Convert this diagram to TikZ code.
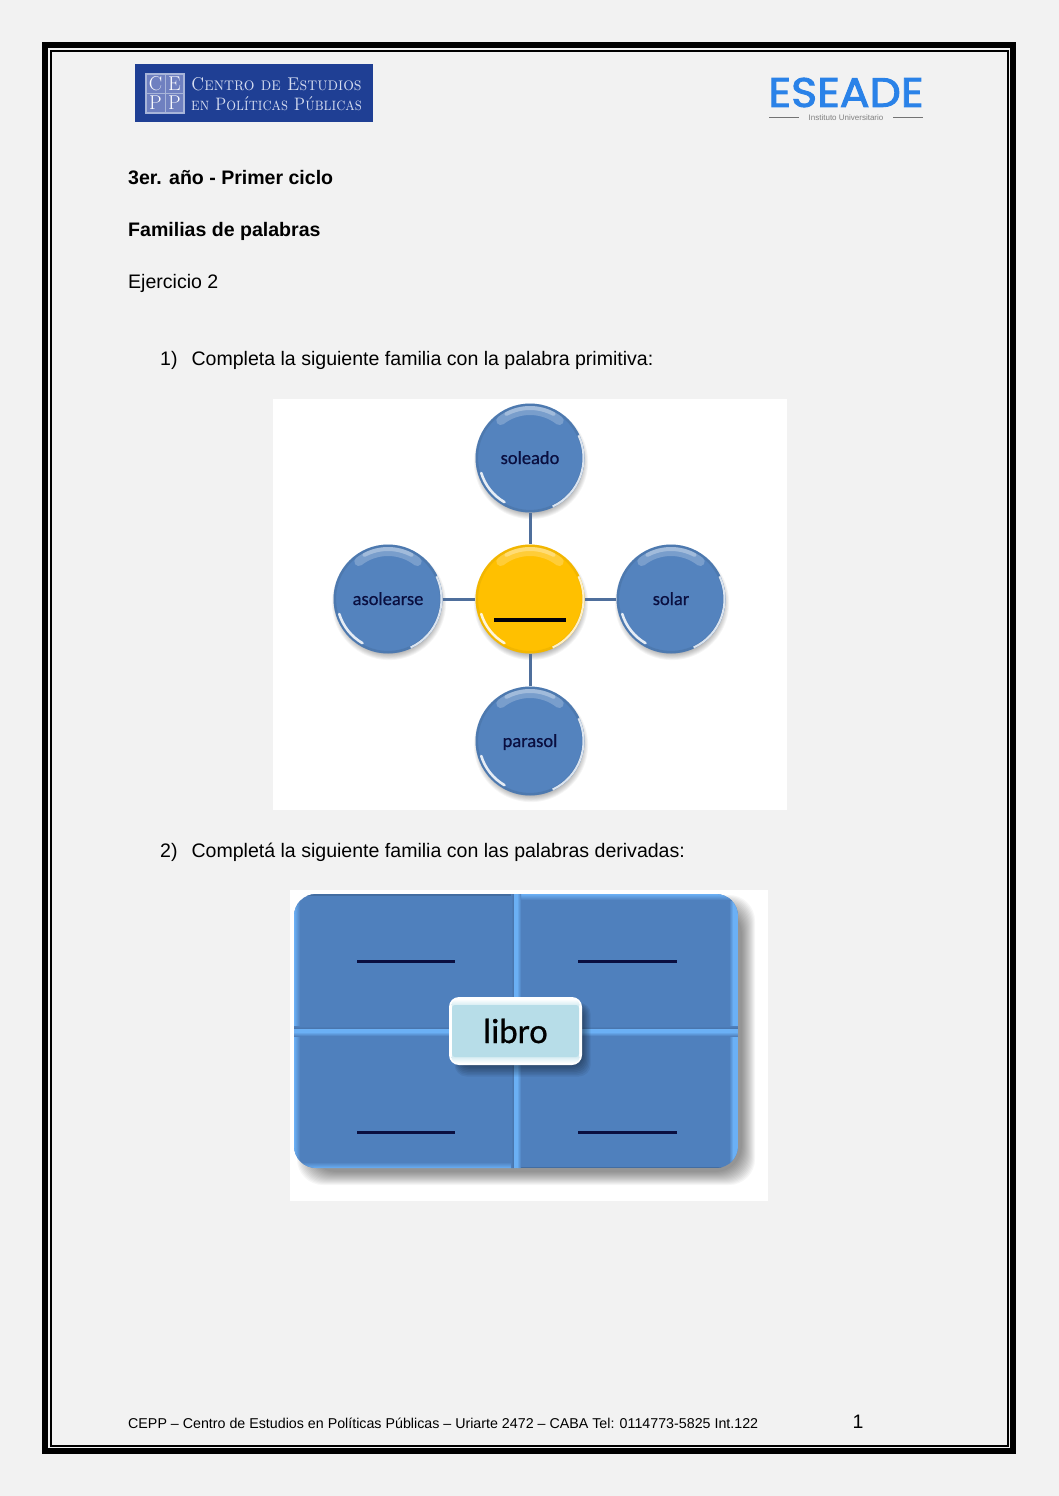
\documentclass[tikz,border=0pt]{standalone}
\usepackage{fontspec}
\newfontfamily\arial{Liberation Sans}
\newfontfamily\calib{Carlito}
\newfontfamily\calibfat[FakeBold=0.6]{Carlito}
\newfontfamily\logofont[FakeBold=2.2]{Poppins}
\usetikzlibrary{calc}
\definecolor{pagebg}{HTML}{F2F2F2}
\definecolor{ballblue}{HTML}{5483BE}
\definecolor{linkblue}{HTML}{4F6F9C}
\definecolor{gold}{HTML}{FFC000}
\definecolor{panelblue}{HTML}{4F80BD}
\definecolor{bevel}{HTML}{6BB0F5}
\definecolor{navy}{HTML}{0A0F40}
\definecolor{logoblue}{HTML}{1F3F94}
\definecolor{logotext}{HTML}{D5DCF0}
\definecolor{logocellc}{HTML}{6F80C0}
\definecolor{esblue}{HTML}{2A82E8}
\definecolor{keycap}{HTML}{B7DDE8}
\tikzset{
  bodytext/.style={anchor=west,inner sep=0pt,font=\arial\fontsize{19.55}{22}\selectfont,text=black},
  boldtext/.style={bodytext,font=\arial\bfseries\fontsize{19.55}{22}\selectfont},
  ball/.style={circle,minimum size=109pt,inner sep=0pt,text=navy,text height=12pt,text depth=0pt,font=\calibfat\fontsize{18.5}{20}\selectfont},
  link/.style={draw=linkblue,line width=3pt},
  blank/.style={draw=navy,line width=3pt},
  logocell/.style={inner sep=0pt,text=white,font=\fontsize{20}{22}\selectfont},
  logoline/.style={anchor=west,inner sep=0pt,text=logotext},
}
\newcommand{\ballart}[5]{% x y base highlight rim
  \foreach \i in {0,...,9}{\fill[black,opacity=0.04] (#1+1,#2+4) circle ({49+\i*.9});}
  \fill[#3] (#1,#2) circle (54.5);
  \draw[#5,opacity=.25,line width=2.5pt] (#1,#2) circle (53.2);
  \draw[white,opacity=.8,line width=2pt] (#1,#2) ++(65:53.5) arc (65:-25:53.5);
  \draw[#4,opacity=.22,line width=9pt,line cap=round] (#1,#2) ++(-128:47.5) arc (-128:-52:47.5);
  \draw[#4,opacity=.3,line width=4pt,line cap=round] (#1,#2) ++(-118:50) arc (-118:-62:50);
  \draw[white,opacity=.85,line width=2.6pt,line cap=round] (#1,#2) ++(-240:51) arc (-240:-197:51);
}
\begin{document}
\begin{tikzpicture}[x=1pt,y=-1pt]
\useasboundingbox (0,0) rectangle (1059,1496);
\fill[pagebg] (0,0) rectangle (1059,1496);
% page frame
\draw[black,line width=6pt] (45,45) rectangle (1013,1450.5);
\draw[black,line width=2pt] (51,51) rectangle (1007.5,1446);
% CEPP logo
\fill[logoblue] (135,64) rectangle (373,122);
\fill[logotext!75!logoblue] (145,73) rectangle (185,113.5);
\fill[logocellc] (147,75) rectangle (164.5,92.5);
\fill[logocellc] (166,75) rectangle (183,92.5);
\fill[logocellc] (147,94) rectangle (164.5,111.5);
\fill[logocellc] (166,94) rectangle (183,111.5);
\node[logocell] (lc) at (155.5,84) {C};
\node[logocell] (le) at (174.5,84) {E};
\node[logocell] (lp) at (155.5,103) {P};
\node[logocell] (lq) at (174.5,103) {P};
\node[logoline] (l1) at (191,84) {\scalebox{.91}[1]{\scshape\fontsize{18.5}{22}\selectfont Centro de Estudios}};
\node[logoline] (l2) at (191,104) {\scalebox{.855}[1]{\scshape\fontsize{18}{22}\selectfont en Políticas Públicas}};
% ESEADE logo
\node[inner sep=0pt,text=esblue] (es) at (846,92.5) {\resizebox{155pt}{29pt}{\logofont ESEADE}};
\node[inner sep=0pt,text=black!50,font=\arial\fontsize{8}{9}\selectfont] (ins) at (846,117.5) {Instituto Universitario};
\draw[black!55,line width=.7pt] (769,117) -- (799,117) (893,117) -- (923,117);
% headings
\node[boldtext] (h1) at (128,178) {3er. año - Primer ciclo};
\node[boldtext] (h2) at (128,231) {Familias de palabras};
\node[bodytext] (h3) at (128,283.5) {Ejercicio 2};
\node[bodytext] (q1) at (160,360.5) {1)\hspace{14pt}Completa la siguiente familia con la palabra primitiva:};
\node[bodytext] (q2) at (160,852.5) {2)\hspace{14pt}Completá la siguiente familia con las palabras derivadas:};
% figure 1
\fill[white] (273,399) rectangle (787,810);
\ballart{530}{458}{ballblue}{white}{ballblue!70!black}
\ballart{388}{599}{ballblue}{white}{ballblue!70!black}
\ballart{671}{599}{ballblue}{white}{ballblue!70!black}
\ballart{530}{741}{ballblue}{white}{ballblue!70!black}
\ballart{530}{599}{gold}{white}{gold!80!black}
\node[ball] (top) at (530,458) {soleado};
\node[ball] (left) at (388,599) {asolearse};
\node[ball] (right) at (671,599) {solar};
\node[ball] (bot) at (530,741) {parasol};
\node[ball] (mid) at (530,599) {};
\draw[link] (top) -- (mid);
\draw[link] (left) -- (mid);
\draw[link] (right) -- (mid);
\draw[link] (bot) -- (mid);
\draw[draw=black!85!navy,line width=3.2pt] (494,620) -- (566,620);
% figure 2
\fill[white] (290,890) rectangle (768,1201);
\foreach \i in {0,...,13}{
  \fill[black,opacity=0.036,rounded corners=26pt] ({310-\i},{908-\i}) rectangle ({742+\i},{1172+\i});
}
\begin{scope}
  \clip[rounded corners=22pt] (294,894) rectangle (738,1168);
  \fill[panelblue] (294,894) rectangle (738,1168);
  % outer bevels
  \shade[left color=bevel,right color=panelblue] (294,894) rectangle (300,1168);
  \fill[bevel] (733,894) rectangle (738,1168);
  \shade[left color=panelblue,right color=bevel] (729,894) rectangle (733,1168);
  \shade[top color=bevel,bottom color=panelblue] (516,894) rectangle (738,900);
  \shade[top color=panelblue,bottom color=bevel] (294,1162) rectangle (516,1168);
  \fill[panelblue!85!black] (294,894) rectangle (516,895.5);
  \fill[panelblue!85!black] (516,1166.5) rectangle (738,1168);
  % dividers
  \shade[top color=panelblue,bottom color=panelblue!88!black] (294,1026) rectangle (738,1029);
  \fill[bevel] (294,1029) rectangle (738,1032);
  \shade[top color=bevel,bottom color=panelblue] (294,1032) rectangle (738,1036);
  \shade[left color=panelblue,right color=panelblue!88!black] (511,894) rectangle (514,1168);
  \fill[bevel] (514,894) rectangle (517,1168);
  \shade[left color=bevel,right color=panelblue] (517,894) rectangle (521,1168);
\end{scope}
\draw[blank] (357,961) -- (455,961);
\draw[blank] (578,961) -- (677,961);
\draw[blank] (357,1132) -- (455,1132);
\draw[blank] (578,1132) -- (677,1132);
\foreach \i in {0,...,7}{
  \fill[black,opacity=0.06,rounded corners=12pt] ({458-\i*.5},{1006-\i*.5}) rectangle ({583+\i*1.1},{1066+\i*1.5});
}
\fill[white,rounded corners=10pt] (449,997) rectangle (582,1065);
\shade[top color=white,bottom color=keycap,rounded corners=6pt] (451.5,999) rectangle (579.5,1010);
\shade[top color=keycap,bottom color=white,rounded corners=6pt] (451.5,1052) rectangle (579.5,1063);
\fill[keycap,rounded corners=3pt] (452,1005) rectangle (579,1057);
\node[inner sep=0pt,font=\calibfat\fontsize{35}{40}\selectfont,text=black] (libro) at (515.5,1031) {libro};
% footer
\node[bodytext,font=\arial\fontsize{14.25}{16}\selectfont] (foot) at (128,1423) {CEPP – Centro de Estudios en Políticas Públicas – Uriarte 2472 – CABA Tel: 0114773-5825 Int.122};
\node[inner sep=0pt,font=\arial\fontsize{19.5}{22}\selectfont] (pg) at (858,1421.5) {1};
\end{tikzpicture}
\end{document}
